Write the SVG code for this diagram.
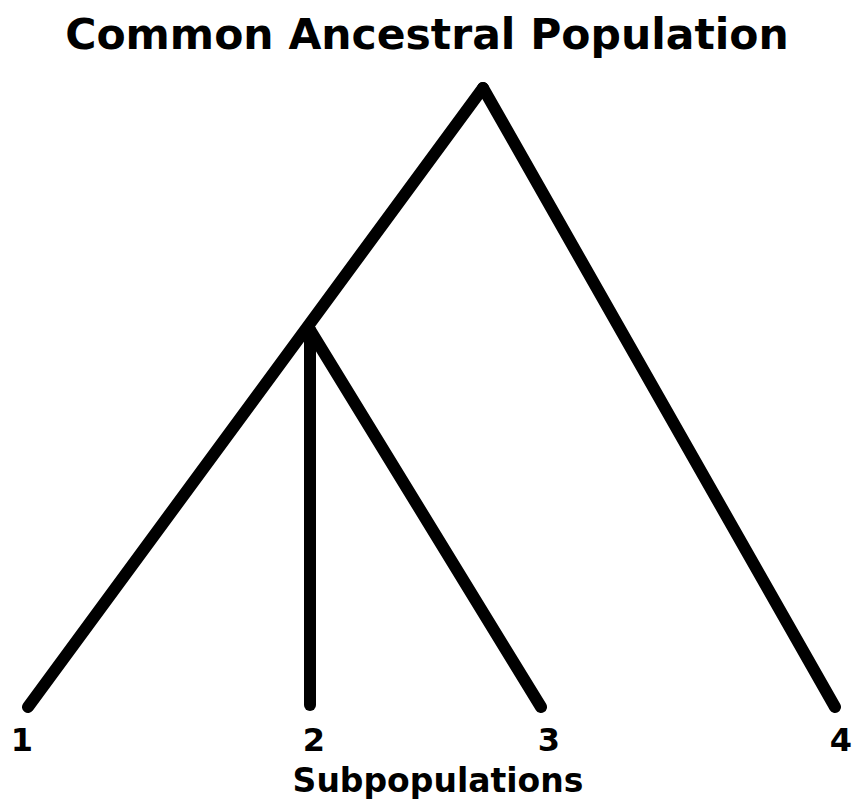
<svg xmlns="http://www.w3.org/2000/svg" width="857" height="805" viewBox="0 0 857 805">
<style>
.t{font-family:"DejaVu Sans",Verdana,sans-serif;font-weight:bold;fill:#000;text-anchor:middle}
.l{stroke:#000;stroke-width:12;stroke-linecap:round;fill:none}
</style>
<rect width="857" height="805" fill="#fff"/>
<g id="connectors">
<line class="l" x1="483" y1="88" x2="28" y2="707"/>
<line class="l" x1="483" y1="88" x2="835" y2="707"/>
<line class="l" x1="310" y1="330" x2="310" y2="705"/>
<line class="l" x1="310" y1="330" x2="541" y2="707"/>
</g>
<g id="title"><text class="t" x="427" y="49" font-size="42.5">Common Ancestral Population</text></g>
<g id="node1"><text class="t" x="22" y="751" font-size="32">1</text></g>
<g id="node2"><text class="t" x="314" y="751" font-size="32">2</text></g>
<g id="node3"><text class="t" x="549" y="751" font-size="32">3</text></g>
<g id="node4"><text class="t" x="841" y="751" font-size="32">4</text></g>
<g id="label"><text class="t" x="438" y="792" font-size="33">Subpopulations</text></g>
</svg>
